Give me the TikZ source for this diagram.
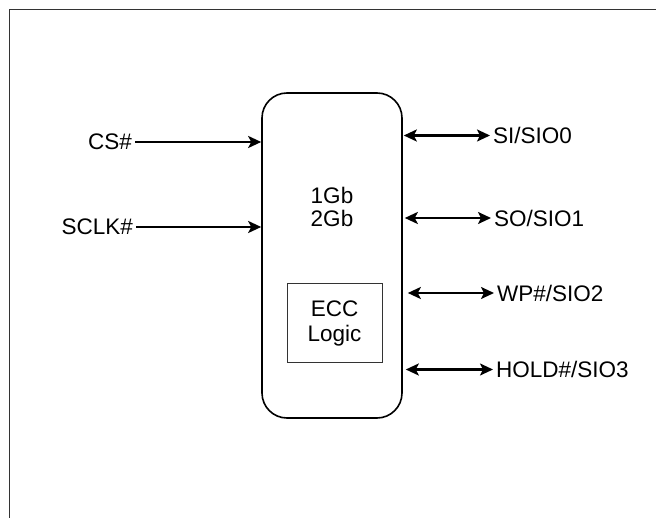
\documentclass[tikz,border=0pt]{standalone}
\usepackage{fontspec}
\setmainfont{Liberation Sans}
\usetikzlibrary{arrows.meta,positioning}

\begin{document}
\begin{tikzpicture}[x=1pt, y=-1pt,
    chipbox/.style={draw, line width=1.6pt, rounded corners=25pt,
        minimum width=140pt, minimum height=325pt},
    eccbox/.style={draw=black!80, line width=1pt, minimum width=95pt,
        minimum height=79pt, align=center, font=\fontsize{22.5}{25}\selectfont},
    pin/.style={font=\fontsize{22.5}{25}\selectfont, inner sep=3pt},
    sig/.style={-{Stealth[length=13pt,width=12pt,inset=3pt]}, line width=2.3pt},
    bidir/.style={{Stealth[length=13pt,width=12pt,inset=3pt]}-{Stealth[length=13pt,width=12pt,inset=3pt]},
        line width=2.3pt}
]
\useasboundingbox (0,0) rectangle (656,518);

% outer frame (only top and left edges show)
\draw[line width=1.2pt, black!80] (9.5,518) -- (9.5,9.5) -- (656,9.5);

% the chip
\node[chipbox] (chip) at (332,255.5) {};
\node[pin, align=center, font=\fontsize{22.5}{22.5}\selectfont] (size) at (332,207) {1Gb\\2Gb};
\node[eccbox] (ecc) at (334.5,323.5) {ECC\\Logic};

% inputs
\node[pin, anchor=east] (cs) at (135,142) {CS\#};
\node[pin, anchor=east] (sclk) at (136,227) {SCLK\#};
\draw[sig] (cs) -- (cs -| chip.west);
\draw[sig] (sclk) -- (sclk -| chip.west);

% I/O pins
\node[pin, anchor=west] (si) at (490,135.5) {SI/SIO0};
\node[pin, anchor=west] (so) at (491,218) {SO/SIO1};
\node[pin, anchor=west] (wp) at (494,293) {WP\#/SIO2};
\node[pin, anchor=west] (hold) at (493,369.5) {HOLD\#/SIO3};
\draw[bidir] ([xshift=1pt]si -| chip.east) -- (si);
\draw[bidir] ([xshift=2pt]so -| chip.east) -- (so);
\draw[bidir] ([xshift=5pt]wp -| chip.east) -- (wp);
\draw[bidir] ([xshift=3pt]hold -| chip.east) -- (hold);

\end{tikzpicture}
\end{document}
